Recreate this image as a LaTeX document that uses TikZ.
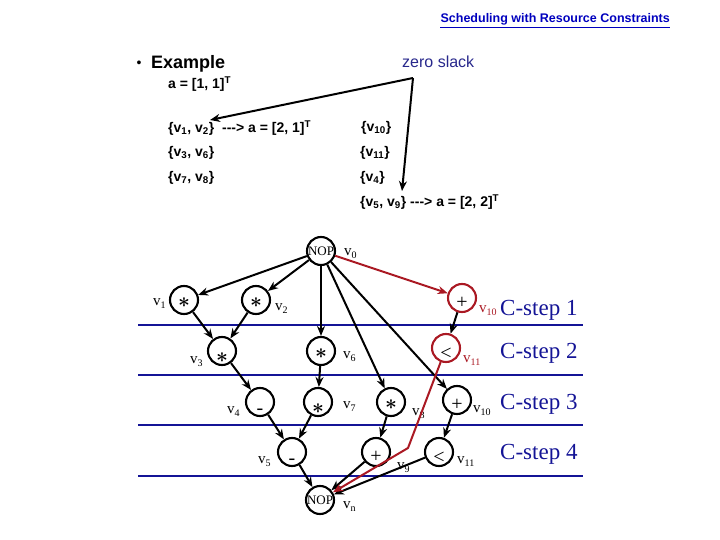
\documentclass[tikz,border=0pt]{standalone}
\usepackage{fontspec}
\setmainfont{Liberation Sans}
\newfontfamily\tms{Liberation Serif}
\usetikzlibrary{arrows.meta}
\definecolor{navy}{RGB}{20,20,150}
\definecolor{dred}{RGB}{170,25,35}
\definecolor{ttl}{RGB}{0,0,190}
\definecolor{slk}{RGB}{40,40,140}
\newcommand\vsub[1]{v\raisebox{-3.5pt}{\fontsize{10}{10}\selectfont #1}}
\newcommand\glyph[2]{\raisebox{#1}[0pt][0pt]{#2}}
\newcommand\opast{{\boldmath$\ast$}}
\newcommand\darrow{{-}{-}{-}>}
\begin{document}
\begin{tikzpicture}[x=1pt,y=-1pt,
  op/.style={circle,draw,line width=2.1pt,minimum size=28pt,inner sep=0pt,
    font=\tms\fontsize{20}{20}\selectfont},
  redop/.style={op,draw=dred},
  vlab/.style={anchor=base west,inner sep=0pt,font=\tms\fontsize{15}{15}\selectfont},
  redlab/.style={vlab,text=dred},
  cstep/.style={anchor=west,inner sep=0pt,text=navy,font=\tms\fontsize{23}{23}\selectfont},
  toptext/.style={anchor=west,inner sep=0pt,font=\bfseries\fontsize{14}{14}\selectfont},
  edge/.style={line width=2pt,-{Stealth[length=10pt,width=8pt]}},
  redge/.style={line width=2pt,draw=dred,-{Stealth[length=10pt,width=8pt]}},
  hline/.style={line width=2.2pt,draw=navy}]
\useasboundingbox (0,0) rectangle (720,540);

% title
\node[anchor=east,inner sep=0pt,text=ttl,font=\bfseries\fontsize{12.5}{12.5}\selectfont] (title) at (670,19) {Scheduling with Resource Constraints};
\draw[ttl,line width=0.8pt] ([yshift=-2pt]title.south west) -- ([yshift=-2pt]title.south east);

% top texts
\node[anchor=center,inner sep=0pt,font=\fontsize{14}{14}\selectfont] (bul) at (139,64) {•};
\node[anchor=west,inner sep=0pt,font=\bfseries\fontsize{18}{18}\selectfont] (ex) at (151,64) {Example};
\node[anchor=west,inner sep=0pt,text=slk,font=\fontsize{16}{16}\selectfont] (zs) at (402,62) {zero slack};
\node[toptext] (a0) at (168,84) {a = [1, 1]\textsuperscript{T}};
\node[toptext] (r1) at (168,128) {\{v\textsubscript{1}, v\textsubscript{2}\}\ \ \darrow{} a = [2, 1]\textsuperscript{T}};
\node[toptext] (r2) at (168,153) {\{v\textsubscript{3}, v\textsubscript{6}\}};
\node[toptext] (r3) at (168,178) {\{v\textsubscript{7}, v\textsubscript{8}\}};
\node[toptext] (s1) at (361,128) {\{v\textsubscript{10}\}};
\node[toptext] (s2) at (360,153) {\{v\textsubscript{11}\}};
\node[toptext] (s3) at (360,178) {\{v\textsubscript{4}\}};
\node[toptext] (s4) at (360,202) {\{v\textsubscript{5}, v\textsubscript{9}\} \darrow{} a = [2, 2]\textsuperscript{T}};

\coordinate (zsv) at (413,78);
\coordinate (zsl) at (210,120);
\coordinate (zsd) at (402,191);
\draw[edge] (zsv) -- (zsl);
\draw[edge] (zsv) -- (zsd);

% horizontal c-step lines
\foreach \yy/\nm in {325/l1,375/l2,425/l3,476/l4}{
  \coordinate (\nm a) at (138,\yy);
  \coordinate (\nm b) at (583,\yy);
  \draw[hline] (\nm a) -- (\nm b);
}

% c-step labels
\node[cstep] (c1) at (500,310) {C-step 1};
\node[cstep] (c2) at (500,353) {C-step 2};
\node[cstep] (c3) at (500,404) {C-step 3};
\node[cstep] (c4) at (500,454) {C-step 4};

% operation nodes
\node[op,font=\tms\fontsize{13}{13}\selectfont] (v0) at (321,251) {\glyph{-4.5pt}{NOP}};
\node[op] (v1) at (184,300) {\glyph{-7pt}{\opast}};
\node[op] (v2) at (256,300) {\glyph{-7pt}{\opast}};
\node[redop] (v10r) at (462,298) {\glyph{-10pt}{+}};
\node[redop] (v11r) at (446,348) {\glyph{-11pt}{<}};
\node[op] (v3) at (222,351) {\glyph{-11pt}{\opast}};
\node[op] (v6) at (321,351) {\glyph{-7pt}{\opast}};
\node[op] (v4) at (260,402) {\glyph{-12pt}{-}};
\node[op] (v7) at (318,402) {\glyph{-11pt}{\opast}};
\node[op] (v8) at (391,402) {\glyph{-7pt}{\opast}};
\node[op] (v10) at (457,400) {\glyph{-10pt}{+}};
\node[op] (v5) at (292,452) {\glyph{-12pt}{-}};
\node[op] (v9) at (376,452) {\glyph{-10pt}{+}};
\node[op] (v11) at (439,452) {\glyph{-11pt}{<}};
\node[op,font=\tms\fontsize{13}{13}\selectfont] (vn) at (320,500) {\glyph{-4.5pt}{NOP}};

% labels
\node[vlab] (l0) at (344,255) {\vsub{0}};
\node[vlab] (l1) at (153,305) {\vsub{1}};
\node[vlab] (l2) at (275,310) {\vsub{2}};
\node[redlab] (l10r) at (479,312) {\vsub{10}};
\node[redlab] (l11r) at (463,362) {\vsub{11}};
\node[vlab] (l3) at (190,363) {\vsub{3}};
\node[vlab] (l6) at (343,358) {\vsub{6}};
\node[vlab] (l4) at (227,413) {\vsub{4}};
\node[vlab] (l7) at (343,408) {\vsub{7}};
\node[vlab] (l8) at (412,415) {\vsub{8}};
\node[vlab] (l10) at (473,412) {\vsub{10}};
\node[vlab] (l5) at (258,463) {\vsub{5}};
\node[vlab] (l9) at (397,469) {\vsub{9}};
\node[vlab] (l11) at (457,463) {\vsub{11}};
\node[vlab] (ln) at (343,508) {\vsub{n}};

% edges
\draw[edge] (v0) -- (v1);
\draw[edge] (v0) -- (v2);
\draw[edge] (v0) -- (v6);
\draw[edge] (v0) -- (v8);
\draw[edge] (v0) -- (v10);
\draw[edge] (v1) -- (v3);
\draw[edge] (v2) -- (v3);
\draw[edge] (v3) -- (v4);
\draw[edge] (v6) -- (v7);
\draw[edge] (v4) -- (v5);
\draw[edge] (v7) -- (v5);
\draw[edge] (v8) -- (v9);
\draw[edge] (v10r) -- (v11r);
\draw[edge] (v10) -- (v11);
\draw[edge] (v5) -- (vn);
\draw[edge] (v9) -- (vn);
\draw[edge] (v11) -- (vn);

% red (zero slack) path
\draw[redge] (v0) -- (v10r);
\coordinate (rb) at (408,448);
\draw[redge] (v11r) -- (rb) -- (vn);
\end{tikzpicture}
\end{document}
